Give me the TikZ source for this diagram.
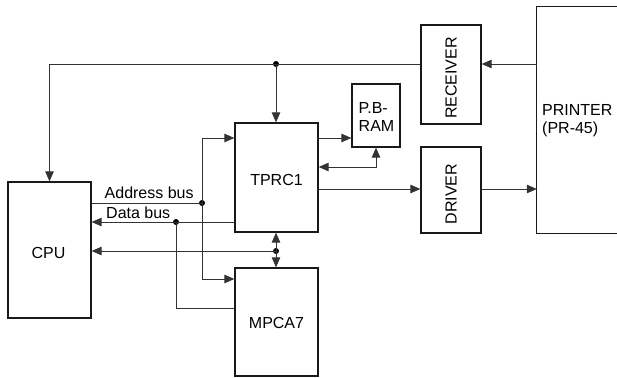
\documentclass[tikz,border=0pt]{standalone}
\usepackage{fontspec}
\setmainfont{Liberation Sans}
\usetikzlibrary{arrows.meta}
\begin{document}
\begin{tikzpicture}[x=1pt,y=-1pt,
  blk/.style={draw=black!90,line width=1.3pt,rectangle,inner sep=0pt},
  lbl/.style={font=\fontsize{16}{18}\selectfont,inner sep=0pt},
  conn/.style={draw=black!80,line width=0.85pt},
  arr/.style={conn,-{Triangle[length=10pt,width=8.5pt]}},
  darr/.style={conn,{Triangle[length=10pt,width=8.5pt]}-{Triangle[length=10pt,width=8.5pt]}},
  dot/.style={circle,fill=black,inner sep=0pt,minimum size=6pt}]
\useasboundingbox (0,0) rectangle (617,377);
% blocks
\node[blk,minimum width=83pt,minimum height=136pt] (cpu) at (49.5,250) {};
\node[lbl] (cputxt) at (48.5,252.5) {CPU};
\node[blk,minimum width=83pt,minimum height=109pt] (tprc) at (276.5,177.5) {};
\node[lbl] (tprctxt) at (276.5,180) {TPRC1};
\node[blk,minimum width=83pt,minimum height=108pt] (mpca) at (276.5,322) {};
\node[lbl] (mpcatxt) at (276.5,323) {MPCA7};
\node[blk,minimum width=48pt,minimum height=63pt] (pbram) at (376,115.5) {};
\node[lbl,align=left,anchor=base west] (pbtxt) at (358.5,131) {P.B-\\RAM};
\node[blk,minimum width=60pt,minimum height=99pt] (recv) at (451,74.5) {};
\node[lbl,rotate=90] (recvtxt) at (451,78) {RECEIVER};
\node[blk,minimum width=60pt,minimum height=86pt] (drv) at (451,190) {};
\node[lbl,rotate=90] (drvtxt) at (451,194) {DRIVER};
\node[minimum width=88pt,minimum height=226pt,inner sep=0pt] (prn) at (581,120) {};
\draw[line width=1.3pt,draw=black!90] (prn.north east) -- (prn.north west) -- (prn.south west) -- (prn.south east);
\node[lbl,align=left,anchor=base west,font=\fontsize{16}{18.5}\selectfont] (prntxt) at (542,133.5) {PRINTER\\(PR-45)};
% bus labels
\node[lbl,anchor=base west] (abus) at (104.5,198.5) {Address bus};
\node[lbl,anchor=base west] (dbus) at (106,218) {Data bus};
% junctions
\node[dot] (jtop) at (276,64) {};
\node[dot] (ja) at (202,203) {};
\node[dot] (jd) at (176,222) {};
\node[dot] (jc) at (276,251) {};
% connectors
\draw[arr] (prn.west |- 0,64) -- (recv.east |- 0,64);
\draw[conn] (recv.west |- 0,64) -- (jtop.center);
\draw[arr] (jtop.center) -| (cpu.north);
\draw[arr] (jtop.center) -- (tprc.north -| jtop);
\draw[conn] (cpu.east |- ja) -- (ja.center);
\draw[arr] (ja.center) |- (tprc.west |- 0,138);
\draw[arr] (ja.center) |- (mpca.west |- 0,279);
\draw[arr] (tprc.west |- jd) -- (cpu.east |- jd);
\draw[conn] (jd.center) |- (mpca.west |- 0,308);
\draw[arr] (jc.center) -- (cpu.east |- jc);
\draw[darr] (tprc.south -| jc) -- (mpca.north -| jc);
\draw[arr] (tprc.east |- 0,138) -- (pbram.west |- 0,138);
\draw[darr] (tprc.east |- 0,167) -| (pbram.south);
\draw[arr] (tprc.east |- 0,189) -- (drv.west |- 0,189);
\draw[arr] (drv.east |- 0,189) -- (prn.west |- 0,189);
\end{tikzpicture}
\end{document}
